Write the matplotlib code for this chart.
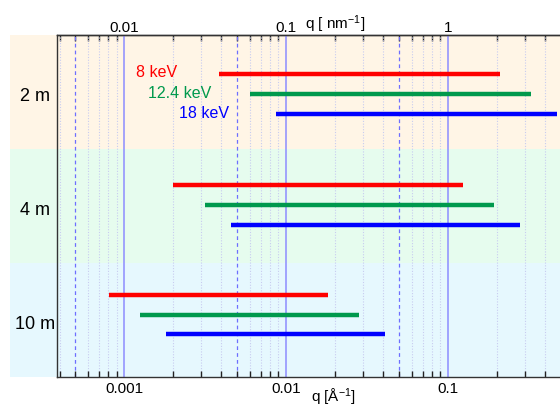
import numpy as np
import matplotlib.pyplot as plt
from matplotlib.ticker import FixedLocator, FuncFormatter, NullFormatter
from matplotlib.patches import Rectangle

plt.rcParams['font.family'] = ['Liberation Sans', 'DejaVu Sans']

# **Data**
distances = ["2 m", "4 m", "10 m"]
energies = ["8 keV", "12.4 keV", "18 keV"]
colors = ["#ff0000", "#00994d", "#0000ff"]
band_colors = ["#fff5e6", "#e6fcee", "#e6f8fe"]

# q ranges in 1/Angstrom, per distance, per energy (min, max)
q_min = [[0.00385, 0.0060, 0.0087],
         [0.00202, 0.00315, 0.00457],
         [0.000812, 0.00126, 0.00182]]
q_max = [[0.210, 0.327, 0.475],
         [0.124, 0.193, 0.280],
         [0.0183, 0.0281, 0.0408]]
# row position of each bar (band i spans i..i+1)
y_pos = [[0.343, 0.519, 0.695],
         [1.320, 1.489, 1.663],
         [2.285, 2.455, 2.627]]

W, H = 560, 407
fig = plt.figure(figsize=(W / 100, H / 100), dpi=100)

ax_top, ax_bot = 35, 377
left, right = 56.5, 561
ax_rect = [left / W, 1 - ax_bot / H, (right - left) / W, (ax_bot - ax_top) / H]

# **Background bands (extend left of axes)**
bg = fig.add_axes([10 / W, ax_rect[1], 1 - 10 / W, ax_rect[3]], zorder=0)
bg.set_xlim(0, 1)
bg.set_ylim(3, 0)
bg.axis("off")
for i, (name, c) in enumerate(zip(distances, band_colors)):
    bg.add_patch(Rectangle((0, i), 1, 1, color=c, lw=0))
    bg.text(25 / (W - 10), i + 0.54, name, ha="center", va="center", fontsize=13)

ax = fig.add_axes(ax_rect, zorder=1)
ax.patch.set_alpha(0)
ax.set_xscale("log")
ax.set_xlim(0.000383, 0.5)
ax.set_ylim(3, 0)
ax.set_yticks([])

# **Grid**
for dec in [1e-4, 1e-3, 1e-2, 1e-1]:
    for m in range(1, 10):
        v = m * dec
        if m == 1:
            ax.axvline(v, color="#8c8cff", lw=1.1, zorder=1)
        elif m == 5:
            ax.axvline(v, color="#6e6eff", lw=0.9, ls=(0, (3, 2.5)), zorder=1)
        else:
            ax.axvline(v, color="#c8ccf0", lw=0.8, ls=(0, (1, 1.5)), zorder=1)

# **Bars**
for i in range(3):
    for j in range(3):
        ax.plot([q_min[i][j], q_max[i][j]], [y_pos[i][j]] * 2,
                color=colors[j], lw=3.2, solid_capstyle="butt", zorder=3)

# energy labels
label_x = [0.00214, 0.00344, 0.00444]
for j in range(3):
    ax.text(label_x[j], y_pos[0][j] - 0.01, energies[j], color=colors[j],
            ha="right", va="center", fontsize=11.5)

# **Ticks**
ax.tick_params(axis="x", which="both", direction="in", top=False, labelsize=11, pad=3.5,
               color="#222222")
ax.tick_params(axis="x", which="major", length=0)
ax.tick_params(axis="x", which="minor", length=4, width=1)
ax.xaxis.set_major_locator(FixedLocator([1e-3, 1e-2, 1e-1]))
ax.xaxis.set_major_formatter(FuncFormatter(lambda v, p: f"{v:g}"))
ax.xaxis.set_minor_formatter(NullFormatter())

sec = ax.secondary_xaxis("top", functions=(lambda x: x * 10, lambda x: x / 10))
sec.tick_params(axis="x", which="both", direction="in", labelsize=11, pad=0,
                color="#222222")
sec.tick_params(axis="x", which="major", length=0)
sec.tick_params(axis="x", which="minor", length=4, width=1)
sec.xaxis.set_major_locator(FixedLocator([1e-2, 1e-1, 1]))
sec.xaxis.set_major_formatter(FuncFormatter(lambda v, p: f"{v:g}"))
sec.xaxis.set_minor_formatter(NullFormatter())

fig.text(335 / W, 1 - 24 / H, r"q [ nm$\mathregular{^{-1}}$]", ha="center", va="center", fontsize=11)
fig.text(333 / W, 1 - 397 / H, r"q [$\mathregular{\AA^{-1}}$]", ha="center", va="center", fontsize=11)

for s in ["left", "bottom", "top", "right"]:
    ax.spines[s].set_linewidth(1.0)
    ax.spines[s].set_color("#333333")
sec.spines["top"].set_linewidth(1.0)
sec.spines["top"].set_color("#333333")

fig.savefig("out.png", dpi=100)
